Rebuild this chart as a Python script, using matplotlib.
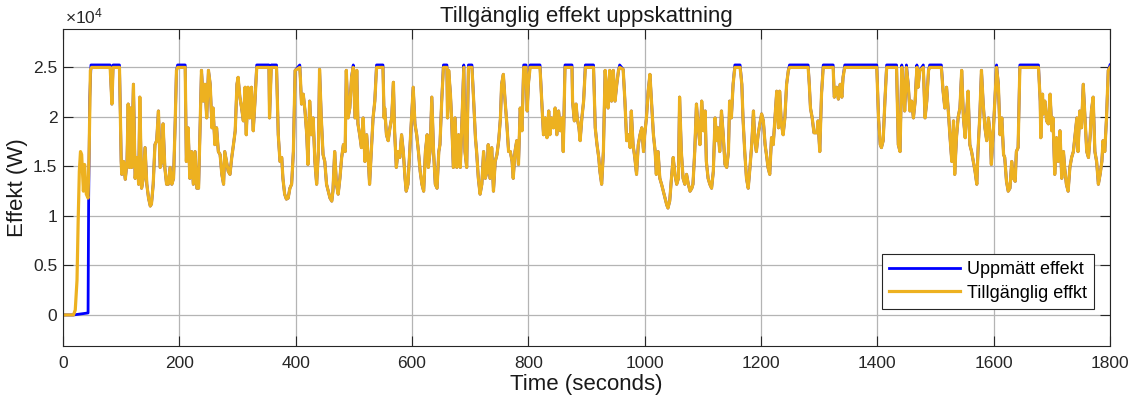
import numpy as np
import matplotlib
matplotlib.use('Agg')
import matplotlib.pyplot as plt

plt.rcParams['font.family'] = ['Liberation Sans', 'DejaVu Sans']
plt.rcParams['mathtext.fontset'] = 'custom'
plt.rcParams['mathtext.rm'] = 'Liberation Sans'
plt.rcParams['mathtext.it'] = 'Liberation Sans'

# available power (time in s, power in W)
time_s = [
    0, 18, 21, 24, 26, 28, 30, 32, 35, 37, 40, 43, 45, 47, 49, 81, 84, 86, 97, 100,
    101, 104, 107, 110, 112, 114, 116, 118, 121, 124, 127, 130, 132, 135, 138, 141, 144, 147, 150, 152,
    155, 158, 161, 164, 167, 170, 172, 175, 178, 181, 184, 187, 190, 193, 195, 197, 210, 212, 215, 218,
    221, 224, 227, 230, 233, 236, 238, 241, 244, 247, 250, 253, 256, 258, 261, 264, 267, 270, 273, 276,
    278, 281, 284, 287, 290, 293, 296, 299, 301, 304,
    307, 310, 313, 315, 318, 321, 324, 327, 330, 333, 354, 355, 358, 367, 370, 373, 376, 378, 381, 384,
    387, 390, 393, 396, 399, 407, 408, 410, 413, 416, 419, 421, 424, 427, 430, 433, 436, 439, 441, 444,
    447, 450, 453, 456, 459, 462, 464, 467, 470, 473, 476, 479, 482, 485, 487, 490, 493, 496, 499, 502,
    505, 507, 510, 513, 516, 519, 522, 525, 527, 530, 533, 536, 539, 550, 552, 553, 556, 559, 562, 565,
    568, 570, 573, 576, 579, 582, 585, 588, 590, 593, 596, 599, 602, 605, 608,
    611, 614, 617, 620, 623, 626, 628, 631, 634, 637, 640, 643, 646, 648, 651, 654, 660, 661, 663, 666,
    668, 671, 674, 677, 680, 683, 686, 689, 691, 694, 697, 703, 706, 709, 711, 714, 717, 720, 723, 726,
    729, 731, 734, 737, 740, 743, 746, 749, 752, 754, 757, 760, 763, 766, 769, 772, 774, 777, 780, 783,
    786, 789, 792, 796, 798, 800, 803, 820, 823, 826, 829, 832, 835, 837, 840, 843, 846, 849, 852, 855,
    858, 860, 863, 875, 876, 879, 882, 884, 887, 889, 892, 895, 898, 912, 915, 918, 921, 923, 926, 929,
    932, 935, 937, 940,
    943, 946, 949, 952, 955, 957, 963, 966, 969, 972, 975, 977, 980, 983, 986, 989, 992, 995, 998, 1000,
    1003, 1006, 1009, 1012, 1015, 1018, 1020, 1023, 1026, 1029, 1032, 1035, 1038, 1040, 1043, 1046, 1049, 1052, 1055, 1058,
    1060, 1063, 1066, 1069, 1072, 1075, 1078, 1081, 1083, 1086, 1089, 1092, 1095, 1098, 1101, 1104, 1106, 1109, 1112, 1115,
    1118, 1121, 1124, 1126, 1129, 1132, 1135, 1138, 1141, 1144, 1146, 1149, 1152, 1155, 1164, 1167, 1169, 1172, 1175, 1178,
    1181, 1184, 1187, 1189, 1192, 1195, 1198, 1201, 1204, 1207, 1210, 1212, 1215, 1218, 1221, 1224, 1227, 1230, 1232,
    1235, 1238, 1241, 1244, 1247, 1249, 1281, 1283, 1285, 1288, 1291, 1296, 1298, 1301, 1304, 1307, 1324, 1326, 1330, 1333,
    1336, 1339, 1341, 1344, 1399, 1402, 1405, 1407, 1410, 1413, 1416, 1433, 1436, 1439, 1442, 1445, 1447, 1450, 1453, 1456,
    1459, 1462, 1465, 1468, 1470, 1473, 1479, 1482, 1485, 1488, 1490, 1510, 1513, 1516, 1519, 1522, 1525, 1528, 1531, 1533,
    1536, 1539, 1542, 1545,
    1548, 1551, 1553, 1556, 1559, 1562, 1565, 1568, 1571, 1573, 1576, 1579, 1582, 1585, 1588, 1591, 1594, 1596, 1599, 1602,
    1605, 1608, 1611, 1614, 1617, 1619, 1622, 1625, 1628, 1631, 1634, 1637, 1639, 1642, 1645, 1677, 1680, 1681, 1684, 1685,
    1688, 1691, 1694, 1697, 1700, 1702, 1705, 1708, 1711, 1714, 1717, 1720, 1722, 1725, 1728, 1731, 1734, 1737, 1740, 1743,
    1745, 1748, 1751, 1754, 1757, 1760, 1763, 1766, 1768, 1771, 1774, 1777, 1780, 1783, 1786, 1788, 1791, 1794, 1797, 1800,
]
avail_w = [
    0, 0, 500, 3500, 9500, 14500, 16500, 16200, 12500, 15200, 12200, 11800, 17000, 24700, 25000, 25000, 21300, 25000, 25000, 15500,
    14200, 15500, 13700, 15500, 21300, 14900, 20900, 14900, 23300, 13800, 15900, 13200, 22000, 12800, 13800, 16900, 13200, 11800, 11000, 11200,
    13200, 17200, 17600, 20600, 14900, 15500, 19300, 14900, 13200, 13200, 14900, 13200, 13800, 19900, 24700, 25000, 25000, 15500, 18900, 13800,
    16500, 13200, 16500, 12800, 12800, 19900, 24700, 21600, 23300, 19900, 24700, 23300, 18900, 20900, 17200, 18900, 16500, 16200, 14200, 13200,
    16500, 15500, 14500, 14200, 15900, 17200, 18600, 23300, 24000, 22000,
    20900, 19600, 23000, 18200, 23000, 19900, 23000, 18600, 21600, 25000, 25000, 19900, 25000, 25000, 18200, 15500, 15900, 13800, 12200, 11700,
    11800, 12800, 13200, 16500, 24700, 25000, 24000, 21300, 22300, 20600, 18200, 15200, 21600, 18200, 19900, 15500, 13200, 16500, 24800, 19900,
    16200, 15500, 13200, 12500, 11800, 11500, 12500, 16500, 13200, 12200, 13800, 15900, 17200, 16500, 24700, 19900, 20900, 24000, 25000, 19900,
    24700, 19300, 18200, 16900, 19900, 15500, 18200, 15500, 13200, 16500, 19900, 21600, 25000, 25000, 19900, 20900, 18200, 17600, 18900, 19900,
    23500, 18600, 14900, 16500, 15900, 18200, 16500, 13800, 12500, 13200, 16500, 19600, 23000, 19300, 18200,
    16500, 14500, 13200, 12500, 16500, 18200, 14900, 16500, 22000, 16500, 13200, 12800, 16500, 17200, 21600, 25000, 25000, 19900, 24700, 22300,
    19900, 14900, 19900, 14900, 18200, 14900, 19900, 25000, 16500, 14900, 25000, 25000, 21600, 17900, 16500, 13800, 12200, 13200, 16500, 13800,
    14500, 17200, 13800, 16900, 12500, 15500, 16200, 17600, 19900, 23300, 24300, 21600, 19300, 16500, 16500, 15500, 13800, 16500, 17600, 15200,
    20900, 18600, 25000, 25000, 20600, 23300, 25000, 25000, 21600, 18200, 19900, 17900, 20600, 18200, 19900, 18900, 20900, 18200, 20600, 18600,
    19900, 16500, 25000, 25000, 21600, 19600, 21300, 19900, 18900, 17600, 19900, 21600, 25000, 25000, 18900, 17200, 15900, 14500, 13200, 16500,
    24700, 22600, 20900, 24700,
    21600, 24700, 21600, 23300, 24700, 25000, 24800, 21600, 17600, 18200, 16900, 20600, 17200, 15900, 14200, 17200, 18200, 18900, 16500, 18200,
    19900, 22600, 24300, 21300, 18200, 16500, 14200, 16500, 13800, 13200, 12500, 11800, 11100, 10800, 11500, 13800, 15900, 14200, 13200, 13800,
    22000, 16500, 13800, 13200, 14200, 13200, 12500, 12800, 13200, 16500, 21300, 18900, 17200, 21600, 18600, 20600, 15500, 13800, 13200, 12800,
    14500, 19900, 17600, 18900, 16500, 20600, 18200, 15200, 14900, 16500, 21600, 19900, 23300, 25000, 25000, 23300, 19900, 16500, 13800, 12800,
    14900, 17200, 20600, 17900, 16500, 18200, 19300, 20300, 19600, 17200, 15900, 14900, 14200, 17900, 17200, 19900, 22600, 18900, 22600,
    19300, 18200, 19900, 23300, 24700, 25000, 25000, 23300, 20900, 19900, 18400, 18400, 19600, 16500, 22300, 25000, 25000, 22000, 23000, 21800,
    23300, 22000, 24000, 25000, 25000, 19900, 17200, 16900, 17600, 21600, 25000, 25000, 17200, 16500, 25000, 22600, 20600, 25000, 23300, 20600,
    21600, 19900, 21600, 25000, 23000, 24700, 25000, 19900, 21600, 24700, 25000, 25000, 22600, 20900, 23000, 20600, 17900, 15500, 19600, 14200,
    17900, 20000, 20900, 24700,
    19900, 17900, 19900, 22600, 17200, 16500, 15500, 14500, 13200, 16500, 19900, 24700, 21300, 18900, 17600, 19900, 18200, 15200, 18200, 21600,
    25000, 23300, 18200, 19900, 16200, 15900, 13500, 12500, 12800, 15500, 13800, 13500, 16500, 16900, 25000, 25000, 21600, 17900, 22300, 20300,
    21600, 19600, 19300, 22300, 18600, 19900, 14200, 17900, 15500, 18600, 13800, 16500, 14900, 13200, 12500, 14900, 15900, 16500, 18200, 19900,
    16500, 20600, 18900, 23300, 19900, 16500, 15900, 18200, 20600, 22000, 16500, 15500, 13200, 14200, 15500, 17600, 16500, 19900, 24700, 25000,
]

# measured power: starts late, sits a little above the available curve when saturated
measured_start_t = [0, 18, 43, 44, 46, 48]
measured_start_w = [0, 0, 200, 11700, 22000, 25250]
measured_plateau_w = 25250
available_plateau_w = 25000

t = np.array(time_s, dtype=float)
p = np.array(avail_w, dtype=float)
late = t >= 49
meas_t = np.concatenate([measured_start_t, t[late]])
meas_p = np.concatenate([measured_start_w,
                         np.where(p[late] >= available_plateau_w, measured_plateau_w, p[late])])

fig = plt.figure(figsize=(11.38, 4.03), dpi=100)
ax = fig.add_axes([0.0554, 0.1414, 0.92, 0.7866])

ax.plot(meas_t, meas_p, color=(0, 0, 1), lw=2.0, label='Uppmätt effekt')
ax.plot(t, p, color=(0.929, 0.694, 0.125), lw=2.3, label='Tillgänglig effkt')

ax.set_xlim(0, 1800)
ax.set_ylim(-3140, 28880)
ax.set_xticks(np.arange(0, 1801, 200))
ax.set_yticks(np.arange(0, 25001, 5000))
ax.set_yticklabels(['0', '0.5', '1', '1.5', '2', '2.5'])
ax.text(0.002, 1.008, r'$\times10^4$', transform=ax.transAxes, fontsize=12.5,
        color='#262626', ha='left', va='bottom')

ax.grid(True, color='#b4b4b4', lw=0.9)
ax.set_axisbelow(True)
ax.tick_params(direction='in', length=7, width=0.8, colors='#262626', labelsize=12.5,
               top=True, right=True)
ax.tick_params(axis='x', pad=7)
ax.tick_params(axis='y', pad=4)
for s in ax.spines.values():
    s.set_color('#262626')
    s.set_linewidth(0.8)

ax.set_title('Tillgänglig effekt uppskattning', fontsize=16, color='#1a1a1a', pad=5)
ax.set_xlabel('Time (seconds)', fontsize=16, color='#1a1a1a', labelpad=2)
ax.set_ylabel('Effekt (W)', fontsize=16, color='#1a1a1a', labelpad=4)

leg = ax.legend(loc='lower right', bbox_to_anchor=(0.985, 0.117), fontsize=13,
                handlelength=3.9, fancybox=False, framealpha=1, edgecolor='#262626',
                borderpad=0.4, labelspacing=0.35, handletextpad=0.4, borderaxespad=0)
leg.get_frame().set_linewidth(0.8)

fig.savefig('out.png', dpi=100)
